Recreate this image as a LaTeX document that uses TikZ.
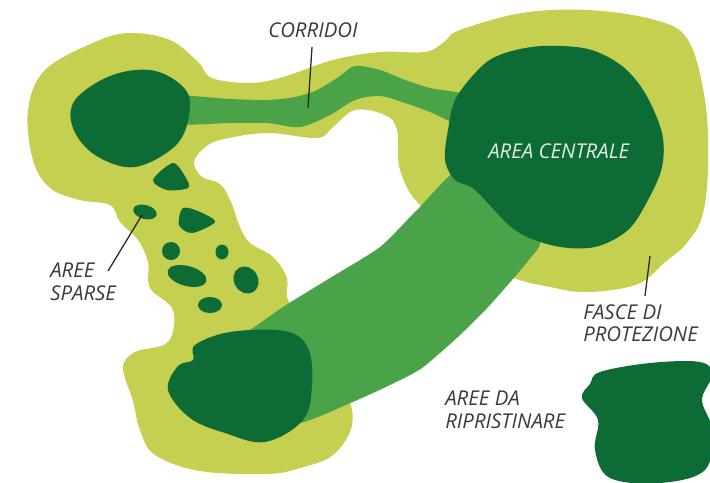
\documentclass[tikz,border=0pt]{standalone}
\usepackage{fontspec}
\setmainfont{Open Sans}
\usetikzlibrary{positioning}
\definecolor{VerdeChiaro}{RGB}{197,208,80}
\definecolor{VerdeMedio}{RGB}{74,163,72}
\definecolor{VerdeScuro}{RGB}{13,107,53}
\definecolor{GrigioTesto}{RGB}{58,58,58}
\definecolor{BiancoTesto}{RGB}{228,236,228}
\tikzset{fascia/.style={fill=VerdeChiaro, draw=none}}
\tikzset{corridoio/.style={fill=VerdeMedio, draw=none}}
\tikzset{nucleo/.style={fill=VerdeScuro, draw=none}}
\tikzset{etichetta/.style={inner sep=0pt, align=left, text=GrigioTesto,
  font=\fontsize{14.5}{15.8}\selectfont\itshape}}
\tikzset{filo/.style={draw=black!85, line width=0.9pt}}

\begin{document}
\begin{tikzpicture}[x=0.025cm, y=-0.025cm]
\useasboundingbox (0,0) rectangle (710,482);
% fasce di protezione
\fill[fascia] plot[smooth cycle, tension=0.6] coordinates {
  (95,42) (130,33) (170,40) (198,62) (212,78) (250,83) (283,77) (333,60)
  (380,52) (425,52) (444,42) (460,30) (522,13) (588,10) (655,20) (688,40)
  (705,100) (708,167) (702,217) (685,245) (665,262) (638,284) (590,292)
  (555,288) (505,274) (470,240) (420,205) (400,170) (397,130) (385,115)
  (355,110) (333,127) (317,138) (267,133) (220,140) (202,150) (194,163)
  (202,177) (220,184) (231,202) (240,227) (250,243) (273,257) (287,278)
  (288,300) (310,330) (345,390) (352,425) (333,455) (300,468) (267,474)
  (200,471) (155,455) (140,430) (133,401) (123,368) (135,352) (168,342)
  (173,310) (150,288) (148,262) (138,240) (120,222) (110,205) (80,200)
  (50,188) (33,160) (28,110) (45,70)};
% corridoi
\fill[corridoio] plot[smooth cycle, tension=0.5] coordinates {
  (175,97) (230,99) (267,100) (295,97) (317,90) (340,76) (355,66) (380,70)
  (405,80) (430,88) (470,97) (470,128) (430,112) (405,103) (380,96)
  (355,100) (330,115) (300,127) (267,123) (230,123) (175,123)};
\fill[corridoio] plot[smooth cycle, tension=0.4] coordinates {
  (215,350) (250,330) (283,307) (330,278) (380,247) (417,210) (464,166)
  (510,200) (540,240) (528,261) (490,305) (460,335) (422,368) (390,385)
  (355,401) (300,423) (250,420)};
% aree centrali
\fill[nucleo] plot[smooth cycle, tension=0.6] coordinates {
  (75,100) (110,76) (150,70) (180,84) (190,105) (178,143) (135,167)
  (95,155) (73,128)};
\fill[nucleo] plot[smooth cycle, tension=0.55] coordinates {
  (482,66) (505,53) (542,46) (588,49) (622,66) (645,93) (662,133)
  (662,167) (648,200) (628,230) (595,247) (555,246) (515,230) (475,190)
  (455,180) (445,160) (448,130) (456,98)};
\fill[nucleo] plot[smooth cycle, tension=0.6] coordinates {
  (195,345) (230,332) (285,331) (308,348) (312,385) (303,420) (265,442)
  (225,433) (190,418) (168,390) (178,366) (193,360)};
% aree sparse
\fill[nucleo] plot[smooth cycle] coordinates {(173,163) (186,178) (188,188) (167,190) (153,180)};
\fill[nucleo, rotate around={-15:(145,212)}] (145,212) ellipse (12 and 7);
\fill[nucleo] plot[smooth cycle] coordinates {(183,208) (200,212) (215,222) (192,233) (179,225)};
\fill[nucleo] (171,251) ellipse (9 and 9);
\fill[nucleo] (222,252) ellipse (6.5 and 7.5);
\fill[nucleo, rotate around={-15:(187,276)}] (187,276) ellipse (20 and 10);
\fill[nucleo, rotate around={-60:(246,280)}] (246,280) ellipse (14 and 12);
\fill[nucleo] (210,305) ellipse (12 and 8);
% aree da ripristinare
\fill[nucleo] plot[smooth cycle, tension=0.6] coordinates {
  (600,372) (650,363) (700,362) (712,375) (702,400) (712,430) (705,470)
  (660,483) (610,478) (595,450) (598,420) (582,398) (590,384)};
% etichette
\node[etichetta, anchor=north west] (corr) at (268,22) {CORRIDOI};
\node[etichetta, anchor=north west, text=BiancoTesto] (centr) at (488,143) {AREA CENTRALE};
\node[etichetta, anchor=north west] (spars) at (50,263) {AREE\\SPARSE};
\node[etichetta, anchor=north west] (fasce) at (583,304) {FASCE DI\\PROTEZIONE};
\node[etichetta, anchor=north west] (ripr) at (445,391) {AREE DA\\RIPRISTINARE};
% fili
\coordinate (corrA) at (312,47);
\coordinate (corrB) at (308,108);
\coordinate (sparsA) at (108,271);
\coordinate (sparsB) at (142,215);
\coordinate (fasceA) at (645,296);
\coordinate (fasceB) at (650,256);
\draw[filo] (corrA) -- (corrB);
\draw[filo] (sparsA) -- (sparsB);
\draw[filo] (fasceA) -- (fasceB);
\end{tikzpicture}
\end{document}
